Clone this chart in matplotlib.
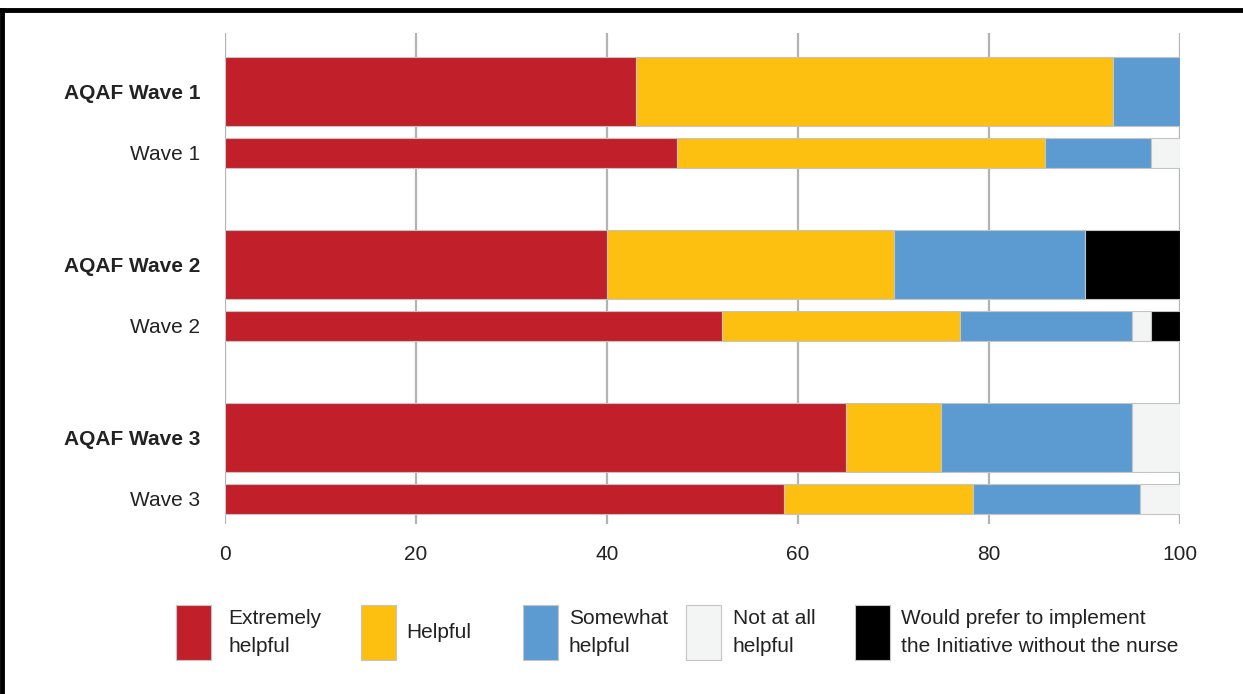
"""Stacked horizontal bars: helpfulness of the nurse, AQAF waves vs. overall waves."""

import matplotlib

matplotlib.use("Agg")
import matplotlib.pyplot as plt
import numpy as np
from matplotlib.lines import Line2D
from matplotlib.patches import Rectangle

plt.rcParams["font.family"] = ["Liberation Sans", "DejaVu Sans"]

# rows from top to bottom
row_labels = ["AQAF Wave 1", "Wave 1", "AQAF Wave 2", "Wave 2", "AQAF Wave 3", "Wave 3"]
row_is_aqaf = [True, False, True, False, True, False]

categories = [
    "Extremely\nhelpful",
    "Helpful",
    "Somewhat\nhelpful",
    "Not at all\nhelpful",
    "Would prefer to implement\nthe Initiative without the nurse",
]
extremely = [43, 47.3, 40, 52, 65, 58.5]
helpful = [50, 38.6, 30, 25, 10, 19.8]
somewhat = [7, 11.1, 20, 18, 20, 17.5]
not_at_all = [0, 3.0, 0, 2, 5, 4.2]
prefer_without = [0, 0, 10, 3, 0, 0]

colors = ["#C1202A", "#FDBF10", "#5B9BD1", "#F3F4F4", "#000000"]
x_ticks = [0, 20, 40, 60, 80, 100]

series = [extremely, helpful, somewhat, not_at_all, prefer_without]

W, H = 1243, 694
fig = plt.figure(figsize=(W / 100, H / 100), dpi=100)
ax = fig.add_axes([225 / W, 1 - 524 / H, (1180 - 225) / W, (524 - 33) / H])

# layout: each group = one tall AQAF bar and one thin overall bar beneath it
ypos = []
heights = []
for i, aqaf in enumerate(row_is_aqaf):
    group = i // 2
    ypos.append(group if aqaf else group + 0.355)
    heights.append(0.40 if aqaf else 0.175)
ypos = np.array(ypos)
heights = np.array(heights)

left = np.zeros(len(row_labels))
for vals, col in zip(series, colors):
    vals = np.array(vals, dtype=float)
    keep = vals > 0
    ax.barh(ypos[keep], vals[keep], left=left[keep], height=heights[keep],
            color=col, edgecolor="#C4C4C4", linewidth=0.8, zorder=2)
    left += vals

ax.set_xlim(0, 100)
ax.set_ylim(2.5, -0.338)
ax.set_xticks(x_ticks)
ax.set_xticklabels([str(t) for t in x_ticks], fontsize=15)
ax.set_yticks(ypos)
ax.set_yticklabels(row_labels, fontsize=15)
for lbl, aqaf in zip(ax.get_yticklabels(), row_is_aqaf):
    if aqaf:
        lbl.set_fontweight("bold")
ax.tick_params(axis="x", length=0, pad=15, colors="#222222")
ax.tick_params(axis="y", length=0, pad=18, colors="#222222")
ax.grid(axis="x", color="#B3B3B3", linewidth=1.6)
ax.set_axisbelow(True)
for s in ax.spines.values():
    s.set_visible(False)

# legend, placed by hand to match the uneven spacing
patch_x = [176, 361, 523, 686, 855]
text_x = [228, 406, 569, 733, 901]
for px, tx, col, cat in zip(patch_x, text_x, colors, categories):
    fig.add_artist(Rectangle((px / W, 1 - 660 / H), 35 / W, 55 / H,
                             transform=fig.transFigure, facecolor=col,
                             edgecolor="#C4C4C4", linewidth=0.8))
    fig.text(tx / W, 1 - 632 / H, cat, fontsize=15, color="#222222",
             ha="left", va="center", linespacing=1.6)

# page frame
fig.add_artist(Line2D([0, 1], [1 - 10 / H, 1 - 10 / H], transform=fig.transFigure,
                      color="black", linewidth=3.5))
fig.add_artist(Line2D([2 / W, 2 / W], [0, 1 - 10 / H], transform=fig.transFigure,
                      color="black", linewidth=3.5))

fig.savefig("out.png", dpi=100)
